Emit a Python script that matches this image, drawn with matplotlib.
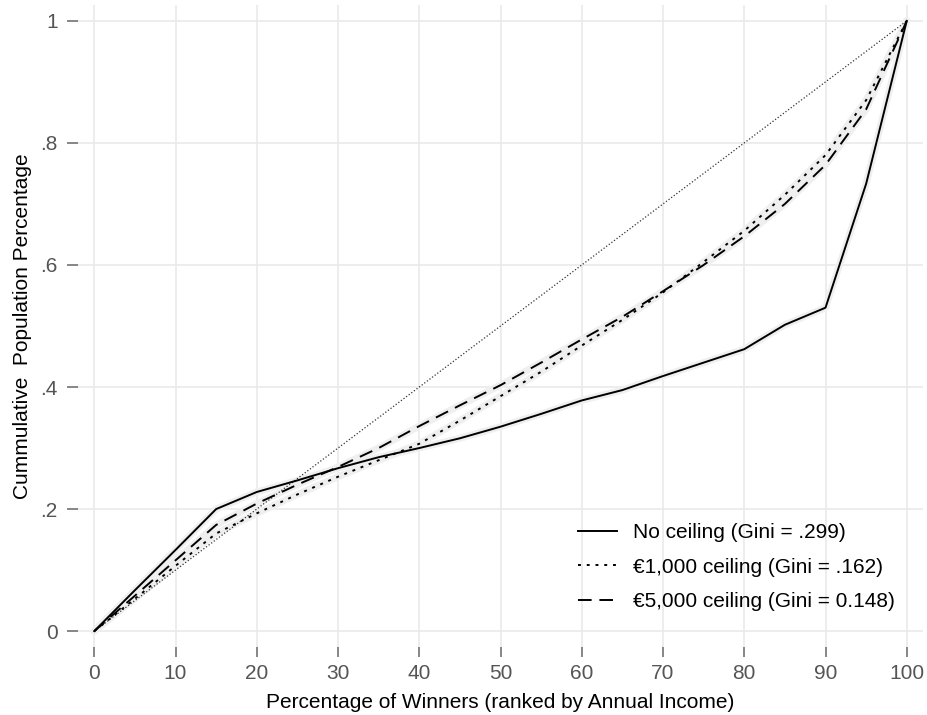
import matplotlib
matplotlib.use('Agg')
import matplotlib.pyplot as plt

plt.rcParams['font.family'] = ['Liberation Sans', 'DejaVu Sans']

# percentage of winners
pct = [0, 5, 10, 15, 20, 25, 30, 35, 40, 45, 50, 55, 60, 65, 70, 75, 80, 85, 90, 95, 100]

no_ceiling = [0, 0.067, 0.133, 0.200, 0.228, 0.247, 0.267, 0.285, 0.300, 0.316, 0.335,
              0.356, 0.378, 0.395, 0.418, 0.440, 0.462, 0.502, 0.530, 0.733, 1.0]
ceiling_1000 = [0, 0.053, 0.107, 0.160, 0.193, 0.224, 0.253, 0.280, 0.307, 0.345, 0.385,
                0.425, 0.468, 0.510, 0.555, 0.605, 0.656, 0.715, 0.780, 0.870, 1.0]
ceiling_5000 = [0, 0.058, 0.116, 0.174, 0.209, 0.240, 0.269, 0.300, 0.336, 0.370, 0.403,
                0.440, 0.478, 0.515, 0.557, 0.600, 0.647, 0.700, 0.764, 0.855, 1.0]

labels = ['No ceiling (Gini = .299)',
          '€1,000 ceiling (Gini = .162)',
          '€5,000 ceiling (Gini = 0.148)']

xticks = [0, 10, 20, 30, 40, 50, 60, 70, 80, 90, 100]
yticks = [0, 0.2, 0.4, 0.6, 0.8, 1.0]
ytick_labels = ['0', '.2', '.4', '.6', '.8', '1']

fig = plt.figure(figsize=(9.27, 7.15), dpi=100)
ax = fig.add_axes([78 / 927, 68 / 715, 845 / 927, 642 / 715])

# line of equality
ax.plot([0, 100], [0, 1], color='#333333', lw=0.9, linestyle=(0, (1, 1.6)), zorder=2)

styles = ['-', (0, (1.5, 3)), (0, (7, 4))]
for vals, ls, lab in zip([no_ceiling, ceiling_1000, ceiling_5000], styles, labels):
    ax.plot(pct, vals, color='#efefef', lw=5, solid_capstyle='round', zorder=1)
    ax.plot(pct, vals, color='black', lw=1.4, linestyle=ls, label=lab, zorder=3)

ax.set_xlim(-2, 102)
ax.set_ylim(-0.026, 1.026)
ax.set_xticks(xticks)
ax.set_yticks(yticks)
ax.set_yticklabels(ytick_labels)
ax.grid(True, color='#e8e8e8', lw=1.1)
ax.set_axisbelow(True)

for s in ax.spines.values():
    s.set_visible(False)

ax.tick_params(axis='x', direction='out', length=7.2, width=1.1, color='#666666',
               labelcolor='#555555', labelsize=15, pad=5)
ax.tick_params(axis='y', direction='out', length=8, width=1.1, color='#666666',
               labelcolor='#555555', labelsize=15, pad=6.5)

ax.set_xlabel('Percentage of Winners (ranked by Annual Income)', fontsize=15, labelpad=7)
ax.set_ylabel('Cummulative  Population Percentage', fontsize=15, labelpad=6)

ax.legend(loc='center left', bbox_to_anchor=(58.3, 0.105), bbox_transform=ax.transData,
          frameon=False, fontsize=15, borderpad=0, handlelength=1.87,
          handletextpad=0.77, labelspacing=0.75)

fig.savefig('out.png', dpi=100)
